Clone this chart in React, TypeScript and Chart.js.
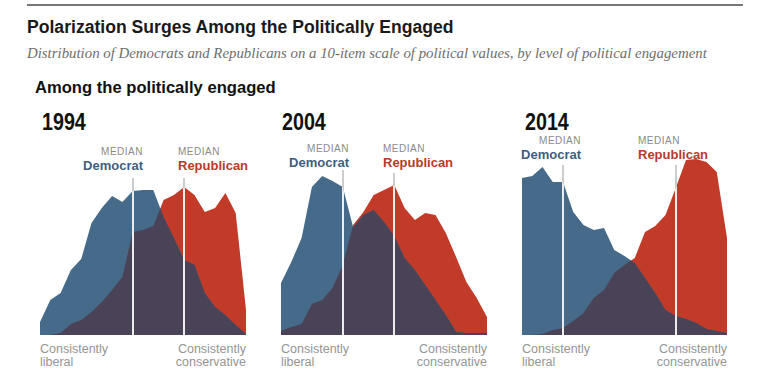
import React, { useEffect, useRef } from "react";
import { Chart, registerables } from "chart.js";

Chart.register(...registerables);

// ---- Data (share of partisans at each point of the 10-item scale) ----
const scalePoints = ["-10", "-9", "-8", "-7", "-6", "-5", "-4", "-3", "-2", "-1", "0", "1", "2", "3", "4", "5", "6", "7", "8", "9", "10"];

const dem1994 = [13, 35, 42, 65, 76, 112, 127, 139, 133, 144, 145, 145, 118, 97, 75, 70, 42, 28, 20, 10, 1];
const rep1994 = [0, 0, 2, 11, 15, 23, 33, 45, 58, 103, 105, 109, 135, 140, 148, 140, 123, 127, 142, 122, 25];

const dem2004 = [52, 73, 97, 148, 159, 154, 148, 108, 120, 125, 113, 99, 77, 65, 50, 35, 20, 3, 2, 2, 2];
const rep2004 = [4, 8, 11, 31, 35, 47, 70, 110, 123, 140, 145, 150, 127, 115, 122, 120, 102, 78, 53, 37, 18];

const dem2014 = [157, 159, 168, 153, 153, 123, 110, 105, 107, 85, 79, 72, 57, 42, 25, 19, 16, 12, 6, 4, 2];
const rep2014 = [0, 0, 1, 5, 7, 14, 22, 37, 45, 62, 70, 77, 103, 109, 120, 147, 175, 176, 173, 163, 97];

const years = ["1994", "2004", "2014"];
const demMedians = ["-1", "-4", "-6"];
const repMedians = ["4", "1", "5"];

const titleText = "Polarization Surges Among the Politically Engaged";
const subtitleText =
  "Distribution of Democrats and Republicans on a 10-item scale of political values, by level of political engagement";
const sectionText = "Among the politically engaged";
const medianText = "MEDIAN";
const demText = "Democrat";
const repText = "Republican";
const leftEndText = ["Consistently", "liberal"];
const rightEndText = ["Consistently", "conservative"];

// ---- Styling / layout ----
const W = 769;
const H = 385;
const PLOT_TOP = 135;
const PLOT_BOTTOM = 335;
const Y_MAX = PLOT_BOTTOM - PLOT_TOP;

const BLUE = "#466a89";
const RED = "#c23b28";
const OVERLAP = "#4a4357";
const DEM_TEXT = "#3e5f7e";
const REP_TEXT = "#b9392a";
const SANS = "'Liberation Sans', Arial, sans-serif";
const SERIF = "'Liberation Serif', 'Times New Roman', serif";

const layouts = [
  { left: 40, right: 246, yearX: 42, demLabelRight: 143, repLabelLeft: 178, medianBase: 155, demTop: 178, repTop: 178 },
  { left: 281, right: 487, yearX: 282, demLabelRight: 349, repLabelLeft: 383, medianBase: 152, demTop: 170, repTop: 173 },
  { left: 522, right: 727, yearX: 525, demLabelRight: 581, repLabelLeft: 638, medianBase: 144, demTop: 165, repTop: 165 },
];

const panelData = [
  { dem: dem1994, rep: rep1994 },
  { dem: dem2004, rep: rep2004 },
  { dem: dem2014, rep: rep2014 },
];

const overlapPlugin = {
  id: "overlap",
  afterDatasetsDraw(chart: any, _args: any, opts: any) {
    const ctx = chart.ctx as CanvasRenderingContext2D;
    const y0 = chart.scales.y.getPixelForValue(0);
    const areaPath = (i: number) => {
      const pts = chart.getDatasetMeta(i).data;
      const p = new Path2D();
      p.moveTo(pts[0].x, y0);
      pts.forEach((pt: any) => p.lineTo(pt.x, pt.y));
      p.lineTo(pts[pts.length - 1].x, y0);
      p.closePath();
      return p;
    };
    const pa = areaPath(0);
    const pb = areaPath(1);
    ctx.save();
    ctx.clip(pa);
    ctx.fillStyle = opts.color;
    ctx.fill(pb);
    ctx.restore();

    const union = new Path2D();
    union.addPath(pa);
    union.addPath(pb);
    const xs = chart.scales.x;
    (opts.medians || []).forEach((m: any) => {
      const idx = scalePoints.indexOf(m.value);
      const x = Math.round(xs.getPixelForValue(idx));
      ctx.save();
      ctx.strokeStyle = "#9a9a9a";
      ctx.lineWidth = 1;
      ctx.beginPath();
      ctx.moveTo(x, m.top);
      ctx.lineTo(x, y0);
      ctx.stroke();
      ctx.clip(union);
      ctx.strokeStyle = "#ececec";
      ctx.lineWidth = 2;
      ctx.beginPath();
      ctx.moveTo(x, m.top);
      ctx.lineTo(x, y0);
      ctx.stroke();
      ctx.restore();
    });
  },
};

function Panel({ idx }: { idx: number }) {
  const ref = useRef<HTMLCanvasElement | null>(null);
  const lay = layouts[idx];
  const d = panelData[idx];
  const w = lay.right - lay.left;
  useEffect(() => {
    if (!ref.current) return;
    const chart = new Chart(ref.current, {
      type: "line",
      data: {
        labels: scalePoints,
        datasets: [
          { label: "Democrat", data: d.dem, backgroundColor: BLUE, borderWidth: 0, pointRadius: 0, fill: "origin", tension: 0 },
          { label: "Republican", data: d.rep, backgroundColor: RED, borderWidth: 0, pointRadius: 0, fill: "origin", tension: 0 },
        ],
      },
      options: {
        animation: false,
        responsive: false,
        events: [],
        layout: { padding: 0 },
        scales: {
          x: { type: "category", display: false, offset: false },
          y: { display: false, min: 0, max: Y_MAX },
        },
        plugins: {
          legend: { display: false },
          tooltip: { enabled: false },
          overlap: {
            color: OVERLAP,
            medians: [
              { value: demMedians[idx], top: lay.demTop - PLOT_TOP },
              { value: repMedians[idx], top: lay.repTop - PLOT_TOP },
            ],
          },
        } as any,
      },
      plugins: [overlapPlugin],
    });
    return () => chart.destroy();
  }, [idx]);
  return (
    <canvas
      ref={ref}
      width={w}
      height={Y_MAX}
      style={{ position: "absolute", left: lay.left, top: PLOT_TOP, width: w, height: Y_MAX }}
    />
  );
}

type TxtProps = {
  text: string;
  x: number;
  base: number;
  size: number;
  weight?: number | string;
  color?: string;
  align?: "left" | "right";
  family?: string;
  italic?: boolean;
  ls?: number;
  sx?: number;
};

function Txt({ text, x, base, size, weight = 400, color = "#111", align = "left", family = SANS, italic = false, ls = 0, sx = 1 }: TxtProps) {
  const k = family === SERIF ? 0.8375 : 0.8465;
  const style: any = {
    position: "absolute",
    top: base - k * size,
    fontSize: size,
    lineHeight: `${size}px`,
    fontFamily: family,
    fontWeight: weight,
    fontStyle: italic ? "italic" : "normal",
    color,
    whiteSpace: "nowrap",
    letterSpacing: ls,
  };
  if (align === "left") {
    style.left = x;
    if (sx !== 1) {
      style.transform = `scaleX(${sx})`;
      style.transformOrigin = "left top";
    }
  } else {
    style.right = W - x;
    if (sx !== 1) {
      style.transform = `scaleX(${sx})`;
      style.transformOrigin = "right top";
    }
  }
  return <div style={style}>{text}</div>;
}

export default function App() {
  return (
    <div style={{ position: "absolute", left: 0, top: 0, width: W, height: H, background: "#fff", overflow: "hidden" }}>
      <div style={{ position: "absolute", left: 27, top: 4, width: 716, height: 2, background: "#777" }} />
      <Txt text={titleText} x={27} base={34} size={17.6} weight={700} color="#1a1a1a" />
      <Txt text={subtitleText} x={27} base={58} size={14.85} family={SERIF} italic color="#6e6e6e" />
      <Txt text={sectionText} x={35} base={94} size={16.6} weight={700} color="#111" />
      {layouts.map((lay, i) => (
        <React.Fragment key={years[i]}>
          <Txt text={years[i]} x={lay.yearX} base={130} size={24} weight={700} color="#111" sx={0.82} />
          <Txt text={medianText} x={lay.demLabelRight} base={lay.medianBase} size={10} color="#8a8a8a" align="right" ls={0.5} />
          <Txt text={demText} x={lay.demLabelRight} base={lay.medianBase + 15.5} size={13} weight={700} color={DEM_TEXT} align="right" />
          <Txt text={medianText} x={lay.repLabelLeft} base={lay.medianBase} size={10} color="#8a8a8a" ls={0.5} />
          <Txt text={repText} x={lay.repLabelLeft} base={lay.medianBase + 15.5} size={13} weight={700} color={REP_TEXT} />
          <Panel idx={i} />
          <Txt text={leftEndText[0]} x={lay.left} base={354} size={12.5} color="#959595" />
          <Txt text={leftEndText[1]} x={lay.left} base={367} size={12.5} color="#959595" />
          <Txt text={rightEndText[0]} x={lay.right} base={354} size={12.5} color="#959595" align="right" />
          <Txt text={rightEndText[1]} x={lay.right} base={367} size={12.5} color="#959595" align="right" />
        </React.Fragment>
      ))}
    </div>
  );
}
